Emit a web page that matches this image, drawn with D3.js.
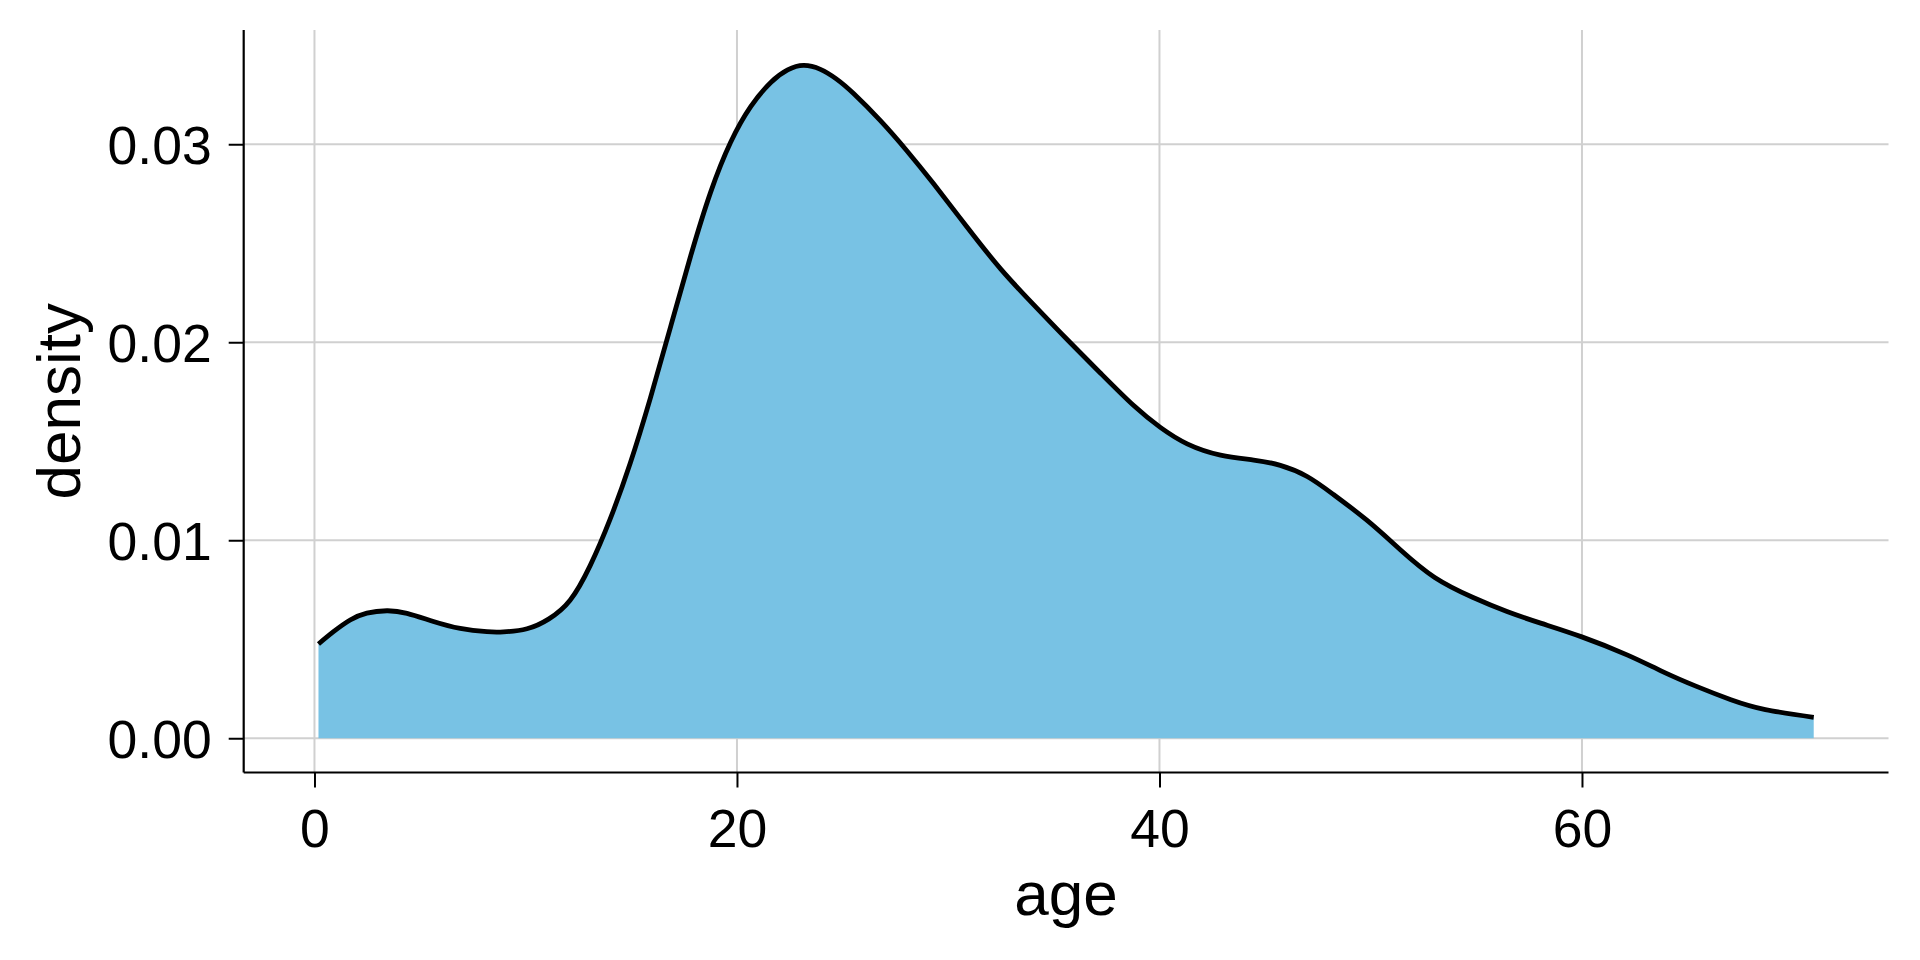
<!DOCTYPE html>
<html>
<head>
<meta charset="utf-8">
<script src="https://cdn.jsdelivr.net/npm/d3@7"></script>
<style>
  html, body { margin: 0; padding: 0; background: #ffffff; }
  svg { display: block; }
  text { font-family: "Liberation Sans", Arial, sans-serif; fill: #000; }
</style>
</head>
<body>
<svg id="chart" width="1920" height="960"></svg>
<script>
// ---- data ----
const ages = [0.19, 0.90, 1.69, 2.48, 3.43, 4.38, 5.63, 6.90, 8.16, 8.95, 10.06, 11.10, 12.10,
  13.05, 14.00, 14.95, 15.90, 16.85, 17.80, 18.75, 19.70, 20.65, 21.60, 22.40, 23.15, 23.95, 24.70, 25.52, 26.79,
  28.05, 29.31, 30.89, 32.47, 34.04, 35.62, 37.20, 38.78, 40.04, 41.31, 42.89, 44.46, 45.72, 46.99,
  48.25, 49.83, 51.40, 53.03, 54.82, 56.45, 58.08, 59.99, 62.16, 63.79, 65.42, 67.05, 68.68, 70.97];
const density = [0.00476, 0.00538, 0.00597, 0.00632, 0.00644, 0.00631, 0.00590, 0.00555, 0.00538, 0.00537,
  0.00553, 0.00603, 0.00697, 0.00872, 0.01108, 0.01390, 0.01718, 0.02075, 0.02433, 0.02757, 0.03010,
  0.03190, 0.03312, 0.03375, 0.03398, 0.03378, 0.03330, 0.03256, 0.03119, 0.02966, 0.02800, 0.02582, 0.02372,
  0.02190, 0.02015, 0.01845, 0.01680, 0.01570, 0.01487, 0.01430, 0.01405, 0.01378, 0.01322, 0.01230,
  0.01100, 0.00952, 0.00812, 0.00712, 0.00640, 0.00580, 0.00512, 0.00420, 0.00338, 0.00262, 0.00195,
  0.00145, 0.00106];
const xTicks = [0, 20, 40, 60];
const yTicks = [0.00, 0.01, 0.02, 0.03];
const xLabel = "age";
const yLabel = "density";

const points = ages.map((a, i) => ({ x: a, y: density[i] }));

// ---- layout ----
const svg = d3.select("#chart");
const pLeft = 243.7, pRight = 1888.5, pTop = 30, pBottom = 772.5;

const x = d3.scaleLinear().domain([-3.35, 74.51]).range([pLeft, pRight]);
const y = d3.scaleLinear().domain([-0.00173, 0.03577]).range([pBottom, pTop]);

// grid
const grid = svg.append("g");
grid.selectAll("line.gx").data(xTicks).join("line").attr("class", "gx")
  .attr("x1", d => x(d)).attr("x2", d => x(d))
  .attr("y1", pTop).attr("y2", pBottom)
  .attr("stroke", "#d0d0d0").attr("stroke-width", 2);
grid.selectAll("line.gy").data(yTicks).join("line").attr("class", "gy")
  .attr("x1", pLeft).attr("x2", pRight)
  .attr("y1", d => y(d)).attr("y2", d => y(d))
  .attr("stroke", "#d0d0d0").attr("stroke-width", 2);

// area + line
const curve = d3.curveNatural;
const area = d3.area().x(d => x(d.x)).y0(y(0)).y1(d => y(d.y)).curve(curve);
const line = d3.line().x(d => x(d.x)).y(d => y(d.y)).curve(curve);

svg.append("path").datum(points).attr("d", area).attr("fill", "#78c2e4");
svg.append("path").datum(points).attr("d", line)
  .attr("fill", "none").attr("stroke", "#000").attr("stroke-width", 4.8);

// axes
const xAxis = d3.axisBottom(x).tickValues(xTicks).tickFormat(d3.format("d"))
  .tickSizeInner(15).tickSizeOuter(0).tickPadding(22);
const yAxis = d3.axisLeft(y).tickValues(yTicks).tickFormat(d3.format(".2f"))
  .tickSizeInner(15).tickSizeOuter(0).tickPadding(17);

const gx = svg.append("g").attr("transform", `translate(0,${pBottom})`).call(xAxis);
const gy = svg.append("g").attr("transform", `translate(${pLeft},0)`).call(yAxis);

[gx, gy].forEach(g => {
  g.select(".domain").attr("stroke", "#000").attr("stroke-width", 2.2);
  g.selectAll(".tick line").attr("stroke", "#000").attr("stroke-width", 2);
  g.selectAll(".tick text").attr("font-size", 53.5)
    .attr("font-family", '"Liberation Sans", Arial, sans-serif').attr("fill", "#000");
});
gx.select(".domain").attr("d", `M${pLeft},0H${pRight}`);
gy.select(".domain").attr("d", `M0,${pTop}V${pBottom}`);
gy.selectAll(".tick text").attr("dy", "0.358em");

// labels
svg.append("text").attr("x", (pLeft + pRight) / 2).attr("y", 915)
  .attr("text-anchor", "middle").attr("font-size", 62).text(xLabel);
svg.append("text").attr("transform", `translate(80,${(pTop + pBottom) / 2}) rotate(-90)`)
  .attr("text-anchor", "middle").attr("font-size", 62).text(yLabel);
</script>
</body>
</html>
